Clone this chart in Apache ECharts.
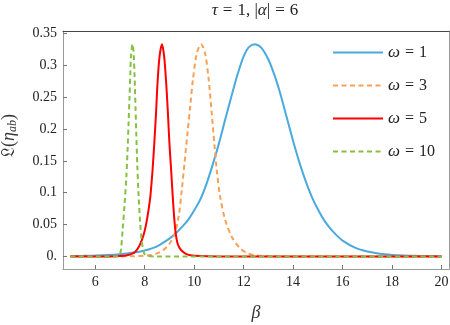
<!DOCTYPE html>
<html>
<head>
<meta charset="utf-8">
<script src="https://cdn.jsdelivr.net/npm/echarts@6/dist/echarts.min.js"></script>
<style>html,body{margin:0;padding:0;background:#fff}#c{width:450px;height:325px}</style>
</head>
<body>
<div id="c"></div>
<script>
// ---- data ----
const seriesNames = ['ω = 1', 'ω = 3', 'ω = 5', 'ω = 10'];
const legendNums = ['1', '3', '5', '10'];

const blueBeta = [5, 5.5, 6, 6.5, 7, 7.5, 8, 8.5, 9, 9.25, 9.5, 9.75, 10, 10.25, 10.5, 10.75, 11, 11.25, 11.5, 11.75, 12, 12.2, 12.44, 12.7, 13, 13.25, 13.5, 13.75, 14, 14.25, 14.5, 14.75, 15, 15.25, 15.5, 15.75, 16, 16.5, 17, 17.5, 18, 18.5, 19, 19.5, 20];
const blueVal  = [0.0008, 0.0011, 0.0016, 0.0024, 0.0037, 0.0058, 0.0095, 0.016, 0.028, 0.036, 0.046, 0.057, 0.072, 0.0895, 0.114, 0.144, 0.177, 0.214, 0.25, 0.285, 0.314, 0.328, 0.333, 0.328, 0.309, 0.284, 0.253, 0.217, 0.181, 0.148, 0.119, 0.094, 0.074, 0.057, 0.044, 0.0335, 0.025, 0.0138, 0.0077, 0.0043, 0.0025, 0.0015, 0.001, 0.0007, 0.0005];

const orangeBeta = [5, 6, 7, 7.5, 8, 8.25, 8.5, 8.75, 9, 9.2, 9.37, 9.5, 9.61, 9.73, 9.84, 9.95, 10.11, 10.28, 10.44, 10.58, 10.71, 10.82, 10.91, 11.05, 11.25, 11.52, 11.85, 12.19, 12.5, 13, 14, 16, 18, 20];
const orangeVal  = [0, 0, 0.0001, 0.0004, 0.0013, 0.0025, 0.005, 0.01, 0.02, 0.034, 0.062, 0.104, 0.146, 0.193, 0.235, 0.277, 0.319, 0.333, 0.319, 0.28, 0.225, 0.175, 0.137, 0.094, 0.058, 0.031, 0.013, 0.0045, 0.0017, 0.0005, 0, 0, 0, 0];

const redBeta = [5, 6, 6.5, 7, 7.29, 7.5, 7.62, 7.75, 7.89, 8.0, 8.09, 8.16, 8.23, 8.32, 8.39, 8.46, 8.52, 8.6, 8.7, 8.79, 8.87, 8.94, 9.0, 9.07, 9.13, 9.19, 9.25, 9.32, 9.4, 9.5, 9.65, 9.84, 10.24, 11, 13, 16, 20];
const redVal  = [0, 0, 0.0001, 0.0006, 0.002, 0.0045, 0.0075, 0.014, 0.026, 0.04, 0.057, 0.074, 0.094, 0.136, 0.178, 0.225, 0.272, 0.313, 0.333, 0.313, 0.272, 0.225, 0.178, 0.136, 0.097, 0.063, 0.038, 0.022, 0.014, 0.009, 0.0045, 0.002, 0.0006, 0.0001, 0, 0, 0];

const greenBeta = [5, 6, 6.8, 6.98, 7.04, 7.11, 7.19, 7.26, 7.31, 7.35, 7.39, 7.42, 7.45, 7.51, 7.56, 7.59, 7.63, 7.66, 7.70, 7.75, 7.82, 7.89, 7.98, 8.1, 8.5, 10, 15, 20];
const greenVal  = [0, 0, 0.0005, 0.002, 0.01, 0.042, 0.083, 0.125, 0.167, 0.209, 0.251, 0.287, 0.315, 0.333, 0.315, 0.285, 0.235, 0.195, 0.146, 0.1, 0.052, 0.022, 0.005, 0.001, 0, 0, 0, 0];

const xTickValues = [6, 8, 10, 12, 14, 16, 18, 20];
const xTickLabels = ['6', '8', '10', '12', '14', '16', '18', '20'];
const yTickValues = [0, 0.05, 0.1, 0.15, 0.2, 0.25, 0.3, 0.35];
const yTickLabels = ['0.', '0.05', '0.1', '0.15', '0.2', '0.25', '0.3', '0.35'];

// ---- chart ----
const zip = (a, b) => a.map((v, i) => [v, b[i]]);
const colors = ['#4aa9dd', '#f7a156', '#ff0000', '#86c043'];
const FONT = 'Liberation Serif';
const X_MIN = 4.7, X_MAX = 20.3, Y_MIN = -0.0196, Y_MAX = 0.3536;
const frameGray = '#999';

function lbl(list, vals, v) {
  for (let i = 0; i < vals.length; i++) if (Math.abs(vals[i] - v) < 1e-9) return list[i];
  return '';
}

const chart = echarts.init(document.getElementById('c'), null, {renderer: 'canvas'});
const mk = (name, data, color, dashed, z) => ({
  name, type: 'line', data, showSymbol: false, symbol: 'none', smooth: 0.3,
  xAxisIndex: 0, yAxisIndex: 0, z,
  lineStyle: {color, width: 2, type: dashed ? [5, 3.5] : 'solid'},
  itemStyle: {color},
  emphasis: {disabled: true}, animation: false
});

chart.setOption({
  animation: false,
  title: {
    text: '{i|τ}{e|=}1, |{i|α}|{e|=}6',
    left: 255, top: 2, textAlign: 'center', padding: 0,
    textStyle: {fontFamily: FONT, fontSize: 17, fontWeight: 'normal', color: '#222',
      rich: {
        i: {fontFamily: FONT, fontStyle: 'italic', fontSize: 17, color: '#222'},
        e: {fontFamily: FONT, fontSize: 17, color: '#222', padding: [0, 5, 0, 5]}
      }}
  },
  grid: {left: 63, right: 1, top: 31, bottom: 56, containLabel: false, outerBoundsMode: 'none'},
  legend: {
    orient: 'vertical', left: 332, top: 44, padding: 0, itemWidth: 50, itemHeight: 16, itemGap: 16,
    data: seriesNames,
    itemStyle: {opacity: 0},
    formatter: (n) => '{i|ω}{e|=}' + legendNums[seriesNames.indexOf(n)],
    textStyle: {fontFamily: FONT, fontSize: 16, color: '#222', lineHeight: 16,
      rich: {
        i: {fontFamily: FONT, fontStyle: 'italic', fontSize: 17, color: '#222', lineHeight: 16},
        e: {fontFamily: FONT, fontSize: 16, color: '#222', lineHeight: 16, padding: [0, 5, 0, 5]}
      }},
    selectedMode: false
  },
  xAxis: [{
    type: 'value', min: X_MIN, max: X_MAX, position: 'bottom',
    name: 'β', nameLocation: 'middle', nameGap: 35,
    nameTextStyle: {fontFamily: FONT, fontStyle: 'italic', fontSize: 18, color: '#333'},
    axisLine: {show: true, onZero: false, lineStyle: {color: frameGray, width: 1}},
    axisTick: {show: true, inside: true, length: 4, customValues: xTickValues, lineStyle: {color: '#777'}},
    axisLabel: {show: true, margin: 6, customValues: xTickValues,
      formatter: (v) => lbl(xTickLabels, xTickValues, v),
      fontFamily: FONT, fontSize: 14, color: '#222'},
    splitLine: {show: false}
  }, {
    type: 'value', min: X_MIN, max: X_MAX, position: 'top',
    axisLine: {show: true, onZero: false, lineStyle: {color: '#444', width: 1}},
    axisTick: {show: false}, axisLabel: {show: false}, splitLine: {show: false}
  }],
  yAxis: [{
    type: 'value', min: Y_MIN, max: Y_MAX, position: 'left',
    name: '{m|𝔏(}{g|η}{s|ab}{m|)}', nameLocation: 'middle', nameGap: 44, nameRotate: 90,
    nameTextStyle: {fontFamily: FONT, fontSize: 18, color: '#333', padding: [0, 0, 0, 28],
      rich: {
        m: {fontFamily: FONT, fontSize: 18, color: '#333'},
        g: {fontFamily: FONT, fontStyle: 'italic', fontSize: 18, color: '#333'},
        s: {fontFamily: FONT, fontStyle: 'italic', fontSize: 12, color: '#333', verticalAlign: 'bottom', padding: [7, 0, 0, 0]}
      }},
    axisLine: {show: true, onZero: false, lineStyle: {color: frameGray, width: 1}},
    axisTick: {show: true, inside: true, length: 4, customValues: yTickValues, lineStyle: {color: '#777'}},
    axisLabel: {show: true, margin: 6, customValues: yTickValues,
      formatter: (v) => lbl(yTickLabels, yTickValues, v),
      fontFamily: FONT, fontSize: 14, color: '#222'},
    splitLine: {show: false}
  }, {
    type: 'value', min: Y_MIN, max: Y_MAX, position: 'right',
    axisLine: {show: true, onZero: false, lineStyle: {color: frameGray, width: 1}},
    axisTick: {show: false}, axisLabel: {show: false}, splitLine: {show: false}
  }],
  series: [
    mk(seriesNames[0], zip(blueBeta, blueVal), colors[0], false, 2),
    mk(seriesNames[1], zip(orangeBeta, orangeVal), colors[1], true, 3),
    mk(seriesNames[2], zip(redBeta, redVal), colors[2], false, 4),
    mk(seriesNames[3], zip(greenBeta, greenVal), colors[3], true, 5)
  ]
});
</script>
</body>
</html>
